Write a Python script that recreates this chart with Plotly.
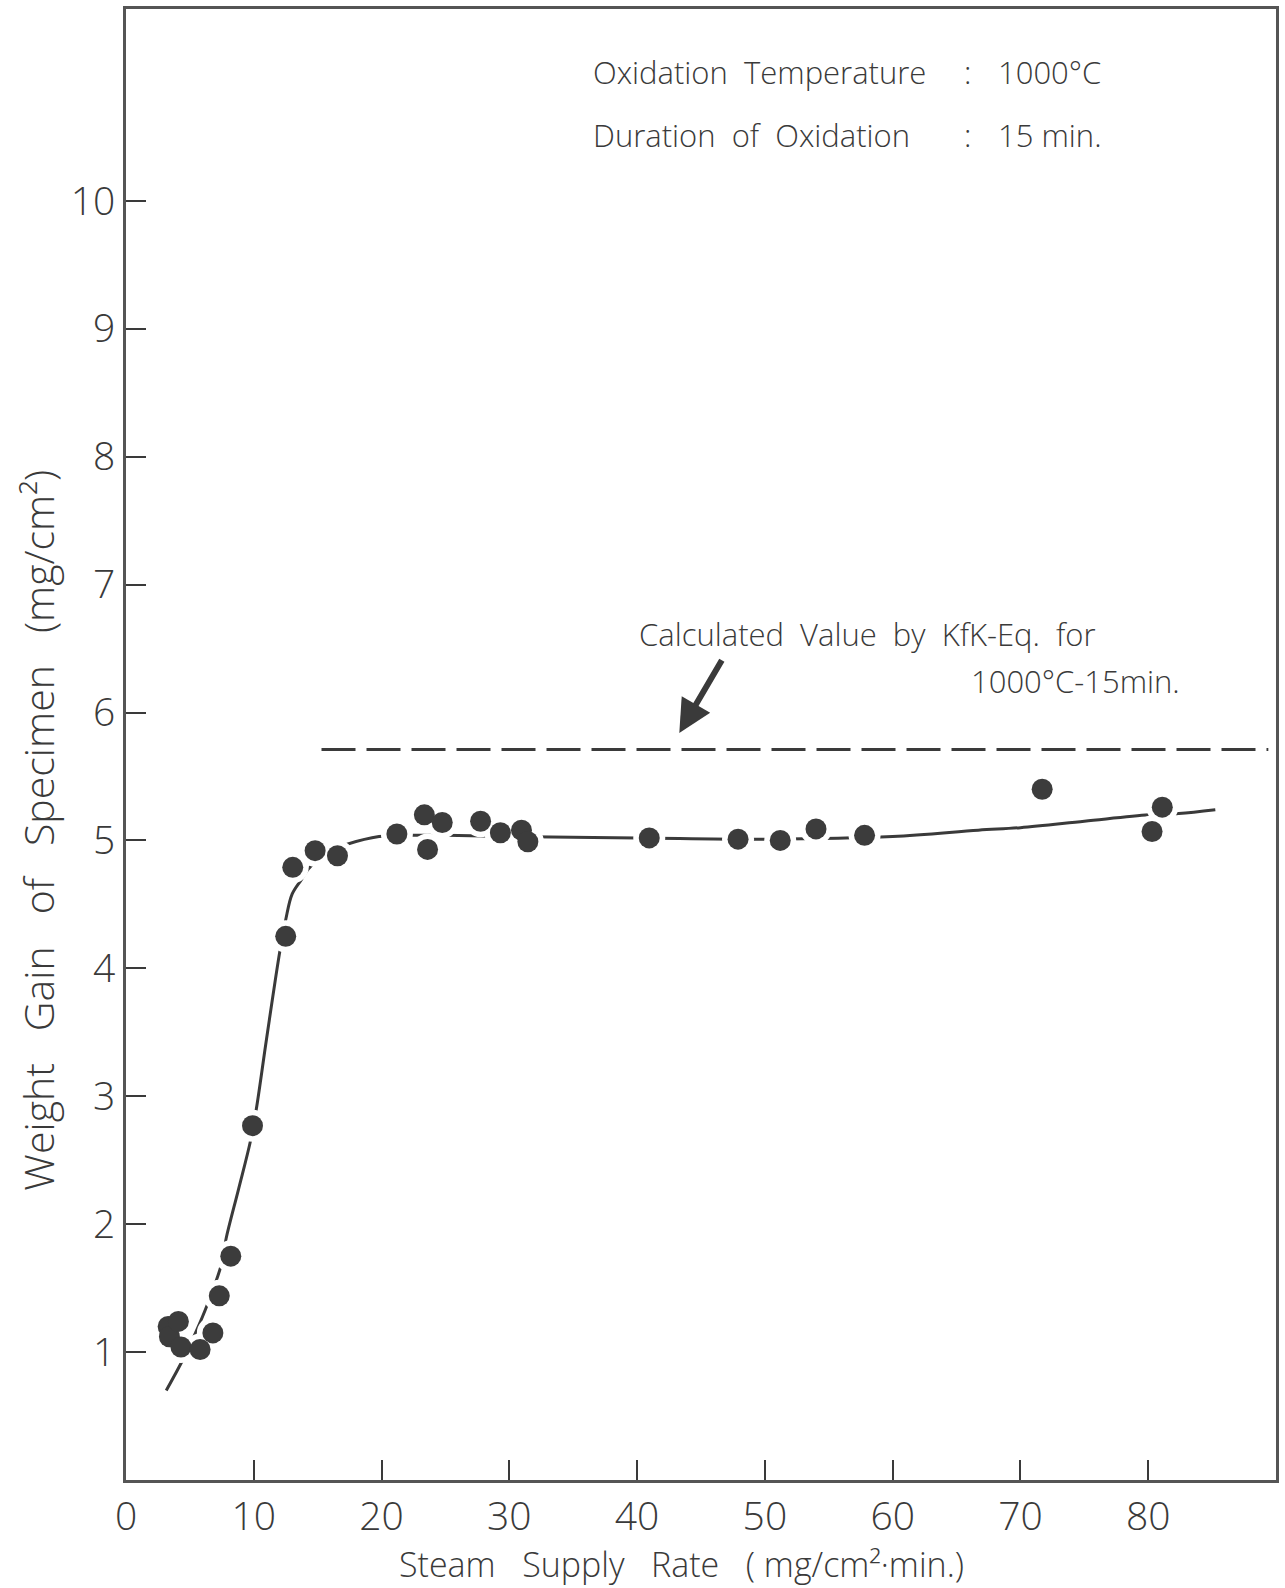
import plotly.graph_objects as go

# Measured weight gain (points)
obs_x = [3.3, 3.4, 4.1, 4.3, 5.8, 6.8, 7.3, 8.2, 9.9, 12.5, 13.05, 14.8, 16.55,
         21.2, 23.35, 23.6, 24.75, 27.75, 29.3, 30.95, 31.45, 40.95, 47.9, 51.2,
         54.0, 57.8, 71.7, 80.3, 81.1]
obs_y = [1.20, 1.12, 1.24, 1.04, 1.02, 1.15, 1.44, 1.75, 2.77, 4.25, 4.79, 4.92, 4.88,
         5.05, 5.20, 4.93, 5.14, 5.15, 5.06, 5.08, 4.99, 5.02, 5.01, 5.00,
         5.09, 5.04, 5.40, 5.07, 5.26]

# Hand-drawn fitted curve
fit_x = [3.15, 4.45, 5.44, 6.4, 7.45, 7.84, 8.8, 9.74, 10.2, 11.0, 12.05, 12.5,
         13.0, 13.7, 14.3, 15.0, 16.0, 17.3, 19.8, 22, 25, 30, 40, 50, 60,
         66.7, 70, 75, 80.05, 82.4, 85.25]
fit_y = [0.70, 0.94, 1.15, 1.38, 1.68, 1.89, 2.27, 2.65, 2.90, 3.45, 4.14, 4.38,
         4.58, 4.69, 4.78, 4.85, 4.92, 4.97, 5.03, 5.04, 5.04, 5.03, 5.02, 5.01, 5.03,
         5.08, 5.10, 5.15, 5.20, 5.21, 5.24]

# Calculated value by KfK-Eq. (dashed)
kfk_x = [15.3, 89.4]
kfk_y = [5.71, 5.71]

x_ticks = [0, 10, 20, 30, 40, 50, 60, 70, 80]
y_ticks = [1, 2, 3, 4, 5, 6, 7, 8, 9, 10]

# arrow of the KfK label (head, tail in data units)
arrow_head = (43.3, 5.84)
arrow_tail = (46.7, 6.42)

INK = "#3a3a3a"
FONT = "Open Sans"
SP = "\u00a0"

fig = go.Figure()
fig.add_trace(go.Scatter(x=kfk_x, y=kfk_y, mode="lines",
                         line=dict(color=INK, width=3, dash="34px,11px"),
                         hoverinfo="skip", showlegend=False))
fig.add_trace(go.Scatter(x=fit_x, y=fit_y, mode="lines", line_shape="spline",
                         line=dict(color=INK, width=3),
                         hoverinfo="skip", showlegend=False))
# white halo to break the curve around the points
fig.add_trace(go.Scatter(x=obs_x, y=obs_y, mode="markers",
                         marker=dict(size=32, color="white", line=dict(width=0)),
                         hoverinfo="skip", showlegend=False))
fig.add_trace(go.Scatter(x=obs_x, y=obs_y, mode="markers",
                         marker=dict(size=21, color="#3c3c3c", line=dict(width=0)),
                         showlegend=False))

tickfont = dict(family=FONT, size=39, color=INK, weight=300)
fig.update_xaxes(range=[0, 90], tickvals=x_ticks, ticktext=[str(v) for v in x_ticks],
                 ticks="inside", ticklen=20, tickwidth=2, tickcolor=INK,
                 showline=True, linewidth=3, linecolor="#555", mirror=True,
                 showgrid=False, zeroline=False, tickfont=tickfont,
                 ticklabelstandoff=0)
fig.update_yaxes(range=[0, 11.5], tickvals=y_ticks, ticktext=[str(v) for v in y_ticks],
                 ticks="inside", ticklen=20, tickwidth=2, tickcolor=INK,
                 showline=True, linewidth=3, linecolor="#555", mirror=True,
                 showgrid=False, zeroline=False, tickfont=tickfont,
                 ticklabelstandoff=0)

def spaced(s, n=2):
    return (SP * n).join(s.split(" "))

ann_font = dict(family=FONT, size=31, color=INK, weight=300)
annotations = [
    dict(text=spaced("Oxidation Temperature"), x=592, y=71, xanchor="left"),
    dict(text=":", x=970, y=71, xanchor="center"),
    dict(text="1000°C", x=998, y=71, xanchor="left"),
    dict(text=spaced("Duration of Oxidation"), x=592, y=134, xanchor="left"),
    dict(text=":", x=970, y=134, xanchor="center"),
    dict(text="15 min.", x=998, y=134, xanchor="left"),
    dict(text=spaced("Calculated Value by KfK-Eq. for"), x=638, y=633, xanchor="left"),
    dict(text="1000°C-15min.", x=1185, y=680, xanchor="right"),
]
W, H = 1285, 1588
L, R, T, B = 126, 6, 8, 108
pw, ph = W - L - R, H - T - B
for a in annotations:
    fig.add_annotation(text=a["text"], xref="paper", yref="paper",
                       x=(a["x"] - L) / pw, y=1 - (a["y"] - T) / ph,
                       xanchor=a["xanchor"], yanchor="middle",
                       showarrow=False, font=ann_font)

fig.add_annotation(x=arrow_head[0], y=arrow_head[1], ax=arrow_tail[0], ay=arrow_tail[1],
                   xref="x", yref="y", axref="x", ayref="y", text="",
                   showarrow=True, arrowhead=2, arrowsize=1.1, arrowwidth=6,
                   arrowcolor=INK)

title_font = dict(family=FONT, size=34, color=INK, weight=300)
fig.add_annotation(text=spaced("Steam Supply Rate", 3) + SP * 3 + "(" + SP + "mg/cm²·min.)",
                   xref="paper", yref="paper", x=(683 - L) / pw, y=1 - (1564 - T) / ph,
                   xanchor="center", yanchor="middle", showarrow=False, font=title_font)
fig.add_annotation(text=spaced("Weight Gain of Specimen", 3) + SP * 3 + "(mg/cm²)",
                   xref="paper", yref="paper", x=(38 - L) / pw, y=1 - (830 - T) / ph,
                   xanchor="center", yanchor="middle", textangle=-90,
                   showarrow=False, font=dict(family=FONT, size=41, color=INK, weight=300))

fig.update_layout(width=W, height=H, margin=dict(l=L, r=R, t=T, b=B),
                  plot_bgcolor="white", paper_bgcolor="white")
fig.write_html("out.html")
